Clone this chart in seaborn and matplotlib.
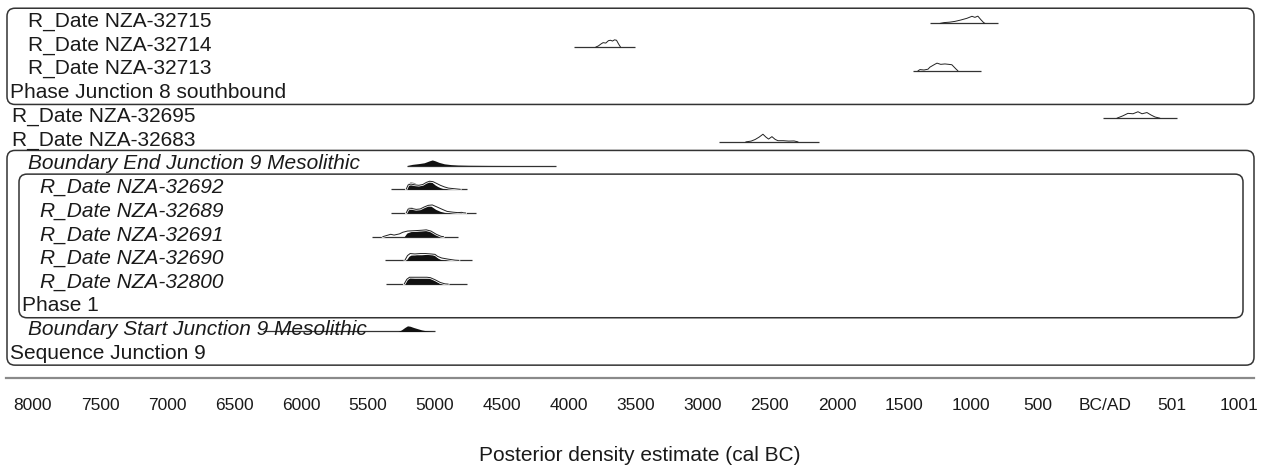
import matplotlib
matplotlib.use("Agg")
import matplotlib.pyplot as plt
from matplotlib.patches import FancyBboxPatch
import seaborn as sns

sns.set_style("white")
plt.rcParams['font.family'] = ['Liberation Sans', 'DejaVu Sans']

# ---- data (years, negative = BC); heights are relative (1 = full row peak) ----
labels = ["R_Date NZA-32715", "R_Date NZA-32714", "R_Date NZA-32713",
          "Phase Junction 8 southbound", "R_Date NZA-32695", "R_Date NZA-32683",
          "Boundary End Junction 9 Mesolithic",
          "R_Date NZA-32692", "R_Date NZA-32689", "R_Date NZA-32691",
          "R_Date NZA-32690", "R_Date NZA-32800", "Phase 1",
          "Boundary Start Junction 9 Mesolithic", "Sequence Junction 9"]
italic = [False, False, False, False, False, False, True,
          True, True, True, True, True, False, True, False]
indent_px = [28, 28, 28, 10, 12, 12, 28, 40, 40, 40, 40, 40, 22, 28, 10]

# range lines drawn under each distribution (start, end)
ranges = {
    0: (-1306, -798), 1: (-3962, -3507), 2: (-1433, -925),
    4: (-15, 538), 5: (-2880, -2134), 6: (-5209, -4097),
    7: (-5328, -4761), 8: (-5328, -4694), 9: (-5470, -4828),
    10: (-5373, -4724), 11: (-5366, -4761), 13: (-6280, -5000),
}

# unmodelled likelihoods (outlines)
lik_x = {
    0: [-1230, -1200, -1160, -1119, -1080, -1030, -992, -970, -948, -925, -905, -895],
    1: [-3800, -3780, -3760, -3745, -3725, -3705, -3690, -3675, -3660, -3645, -3630, -3615],
    2: [-1395, -1380, -1350, -1320, -1306, -1270, -1253, -1225, -1194, -1165, -1142, -1110, -1097],
    4: [90, 135, 172, 210, 247, 277, 314, 344, 374, 411],
    5: [-2680, -2640, -2610, -2580, -2552, -2530, -2510, -2485, -2460, -2440, -2400, -2360, -2320, -2290],
    7: [-5215, -5200, -5180, -5150, -5120, -5090, -5065, -5040, -5015, -4990, -4960, -4930, -4900, -4860, -4830, -4810],
    8: [-5215, -5200, -5170, -5140, -5110, -5080, -5050, -5020, -4985, -4945, -4910, -4865, -4830, -4800, -4790, -4770],
    9: [-5390, -5360, -5330, -5305, -5265, -5240, -5205, -5150, -5100, -5065, -5030, -4990, -4955, -4935],
    10: [-5225, -5205, -5185, -5150, -5110, -5070, -5030, -5000, -4980, -4950, -4900, -4850, -4820],
    11: [-5230, -5210, -5190, -5150, -5100, -5060, -5035, -5000, -4960, -4925, -4900],
}
lik_h = {
    0: [0, 0.1, 0.15, 0.25, 0.4, 0.63, 0.88, 0.75, 0.9, 0.45, 0.1, 0],
    1: [0, 0.15, 0.4, 0.55, 0.5, 0.8, 0.85, 0.75, 0.9, 0.85, 0.4, 0],
    2: [0, 0.15, 0.1, 0.2, 0.45, 0.8, 0.95, 0.8, 0.85, 0.8, 0.75, 0.2, 0],
    4: [0, 0.3, 0.6, 0.55, 0.8, 0.55, 0.7, 0.4, 0.15, 0],
    5: [0, 0.1, 0.3, 0.6, 0.95, 0.6, 0.35, 0.65, 0.3, 0.15, 0.15, 0.1, 0.12, 0],
    7: [0, 0.55, 0.65, 0.55, 0.5, 0.6, 0.85, 1.0, 0.95, 0.75, 0.5, 0.3, 0.15, 0.08, 0.03, 0],
    8: [0, 0.5, 0.55, 0.45, 0.5, 0.75, 0.95, 1.0, 0.75, 0.45, 0.2, 0.1, 0.05, 0.08, 0.03, 0],
    9: [0, 0.15, 0.3, 0.2, 0.35, 0.55, 0.7, 0.75, 0.8, 0.85, 0.7, 0.3, 0.05, 0],
    10: [0, 0.6, 0.85, 0.8, 0.85, 0.85, 0.8, 0.75, 0.5, 0.3, 0.15, 0.03, 0],
    11: [0, 0.6, 0.85, 0.85, 0.85, 0.85, 0.8, 0.55, 0.2, 0.03, 0],
}

# modelled posteriors (filled)
post_x = {
    6: [-5210, -5170, -5120, -5080, -5040, -5020, -5000, -4970, -4930, -4880, -4830, -4750, -4600, -4400, -4200],
    7: [-5215, -5200, -5185, -5160, -5135, -5115, -5090, -5070, -5045, -5025, -5000, -4980, -4960, -4935, -4905],
    8: [-5215, -5200, -5175, -5150, -5120, -5090, -5055, -5030, -4995, -4960, -4925, -4905],
    9: [-5230, -5210, -5180, -5130, -5080, -5050, -5010, -4980, -4945],
    10: [-5215, -5195, -5180, -5140, -5100, -5060, -5030, -5000, -4980, -4955, -4930],
    11: [-5230, -5210, -5190, -5150, -5100, -5060, -5040, -5000, -4970, -4945],
    13: [-5275, -5250, -5225, -5205, -5185, -5160, -5130, -5100, -5070, -5040, -5010],
}
post_h = {
    6: [0, 0.15, 0.25, 0.35, 0.6, 0.7, 0.6, 0.4, 0.22, 0.12, 0.07, 0.04, 0.02, 0.01, 0],
    7: [0, 0.75, 0.9, 0.85, 0.65, 0.65, 0.7, 0.9, 0.95, 0.9, 0.55, 0.35, 0.2, 0.06, 0],
    8: [0, 0.7, 0.75, 0.5, 0.55, 0.8, 0.9, 0.85, 0.45, 0.2, 0.05, 0],
    9: [0, 0.45, 0.65, 0.75, 0.85, 0.85, 0.5, 0.2, 0],
    10: [0, 0.5, 0.65, 0.7, 0.7, 0.75, 0.8, 0.6, 0.3, 0.08, 0],
    11: [0, 0.55, 0.8, 0.75, 0.75, 0.75, 0.8, 0.45, 0.15, 0],
    13: [0, 0.2, 0.5, 0.7, 0.65, 0.5, 0.35, 0.2, 0.1, 0.04, 0],
}

# grouping boxes: (first row, last row, left px, right px)
boxes = [(0, 3, 7, 1254), (6, 14, 7, 1254), (7, 12, 19, 1243)]

tick_vals = [-8000, -7500, -7000, -6500, -6000, -5500, -5000, -4500, -4000,
             -3500, -3000, -2500, -2000, -1500, -1000, -500, 1, 501, 1001]
tick_labels = ["8000", "7500", "7000", "6500", "6000", "5500", "5000", "4500", "4000",
               "3500", "3000", "2500", "2000", "1500", "1000", "500", "BC/AD", "501", "1001"]

# ---- layout ----
W, H = 1269, 469
yrs_per_px = 9001 / (1239 - 33)
x0 = -8000 - (33 - 6) * yrs_per_px
x1 = 1001 + (1254 - 1239) * yrs_per_px
row0_px, row_px = 21.5, 23.7
axis_px = 378
peak = 0.34

fig = plt.figure(figsize=(W / 100, H / 100), dpi=100)
ax = fig.add_axes([6 / W, 1 - axis_px / H, 1248 / W, axis_px / H])
ax.set_xlim(x0, x1)
ax.set_ylim((axis_px - row0_px) / row_px, -row0_px / row_px)


def px2yr(px):
    return x0 + (px - 6) * yrs_per_px


for i, lab in enumerate(labels):
    ax.text(px2yr(indent_px[i]), i, lab, fontsize=15, va='center', ha='left',
            style='italic' if italic[i] else 'normal', color='#1a1a1a', zorder=5)

for i, (a, b) in ranges.items():
    ax.hlines(i + 0.08, a, b, color='#333333', lw=0.9, zorder=2)

for i in post_x:
    base = i + 0.08
    ax.fill_between(post_x[i], [base - h * peak for h in post_h[i]], base,
                    color='#111111', lw=0, zorder=3)

for i in lik_x:
    base = i + 0.08
    ys = [base - h * peak for h in lik_h[i]]
    if i in post_x:
        sns.lineplot(x=lik_x[i], y=ys, ax=ax, color='white', lw=1.8, sort=False,
                     estimator=None, zorder=4)
    sns.lineplot(x=lik_x[i], y=ys, ax=ax, color='#222222', lw=0.7, sort=False,
                 estimator=None, zorder=4)

rx = 8 * yrs_per_px
for r0, r1, lpx, rpx in boxes:
    top = r0 - 0.56
    bot = r1 + 0.5
    ax.add_patch(FancyBboxPatch((px2yr(lpx), top), px2yr(rpx) - px2yr(lpx), bot - top,
                                boxstyle=f"round,pad=0,rounding_size={rx}",
                                mutation_aspect=(1 / row_px) / yrs_per_px,
                                fill=False, ec='#333333', lw=1.1, clip_on=False, zorder=1))

for s in ['top', 'left', 'right']:
    ax.spines[s].set_visible(False)
ax.spines['bottom'].set_color('#8a8a8a')
ax.spines['bottom'].set_linewidth(1.6)
ax.set_yticks([])
ax.set_xticks(tick_vals)
ax.set_xticklabels(tick_labels)
ax.tick_params(axis='x', direction='out', length=9.5, width=0.9, color='#555555',
               pad=5, labelsize=12.5, labelcolor='#1a1a1a')

fig.text(640 / W, 1 - 455 / H, "Posterior density estimate (cal BC)",
         ha='center', va='center', fontsize=15, color='#1a1a1a')

fig.savefig("out.png", dpi=100)
